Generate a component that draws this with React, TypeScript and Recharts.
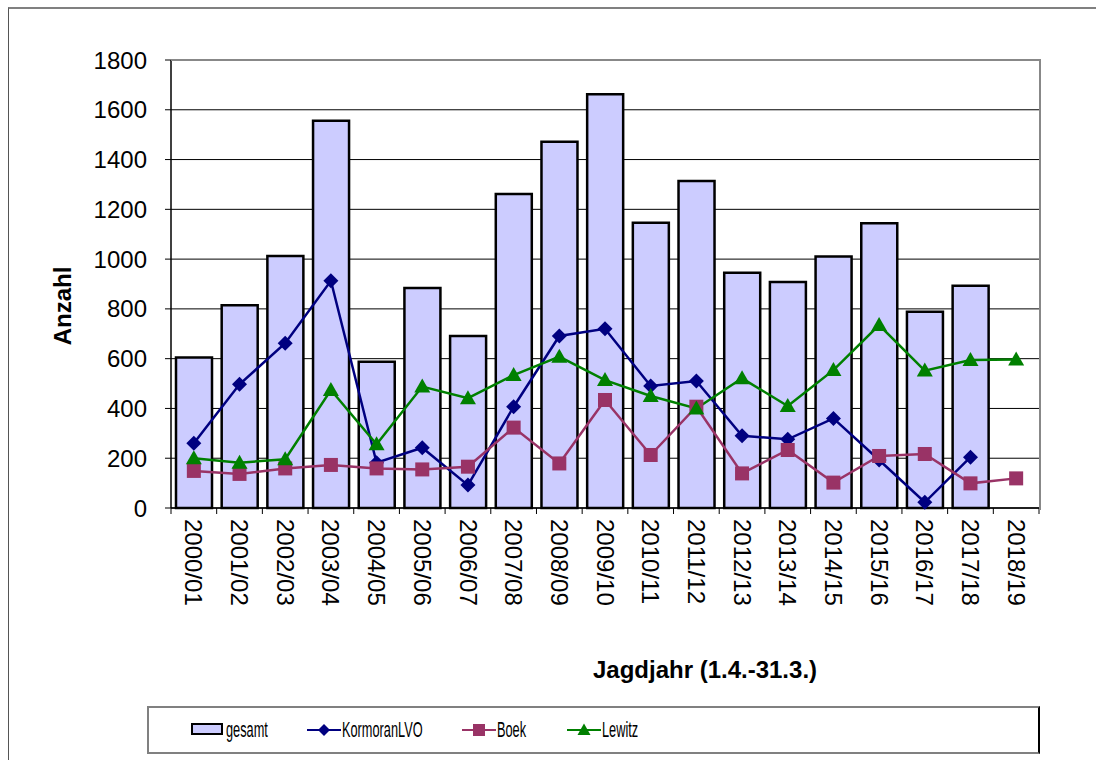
import React from 'react';
import { ComposedChart, Bar, Line, XAxis, YAxis, CartesianGrid } from 'recharts';

const years = [
  '2000/01', '2001/02', '2002/03', '2003/04', '2004/05', '2005/06', '2006/07', '2007/08', '2008/09', '2009/10',
  '2010/11', '2011/12', '2012/13', '2013/14', '2014/15', '2015/16', '2016/17', '2017/18', '2018/19',
];
const gesamt = [605, 815, 1012, 1556, 588, 884, 691, 1262, 1472, 1662, 1146, 1314, 945, 908, 1010, 1144, 789, 893, null];
const kormoranLVO = [260, 497, 662, 913, 182, 242, 92, 407, 691, 720, 490, 510, 290, 276, 360, 193, 23, 204, null];
const boek = [149, 137, 159, 173, 159, 155, 166, 323, 179, 434, 213, 407, 139, 233, 102, 209, 217, 99, 119];
const lewitz = [200, 182, 196, 474, 256, 488, 441, 534, 608, 514, 450, 400, 521, 410, 554, 735, 552, 595, 597];
const yTicks = [0, 200, 400, 600, 800, 1000, 1200, 1400, 1600, 1800];

const NAVY = '#000080';
const PLUM = '#993366';
const GREEN = '#008000';
const BAR_FILL = '#CCCCFF';
const FONT = 'Arial, "Liberation Sans", sans-serif';

const data = years.map((year, i) => ({
  year,
  gesamt: gesamt[i],
  kormoran: kormoranLVO[i],
  boek: boek[i],
  lewitz: lewitz[i],
}));

const Diamond = ({ cx, cy, size = 7.5 }: any) =>
  cx == null || cy == null ? <g /> : (
    <polygon points={`${cx},${cy - size} ${cx + size},${cy} ${cx},${cy + size} ${cx - size},${cy}`} fill={NAVY} />
  );

const Square = ({ cx, cy, size = 7 }: any) =>
  cx == null || cy == null ? <g /> : (
    <rect x={cx - size} y={cy - size} width={size * 2} height={size * 2} fill={PLUM} />
  );

const Triangle = ({ cx, cy, size = 8 }: any) =>
  cx == null || cy == null ? <g /> : (
    <polygon points={`${cx},${cy - size} ${cx + size},${cy + size * 0.75} ${cx - size},${cy + size * 0.75}`} fill={GREEN} />
  );

// x labels read top-down, tick marks sit between the categories
const YearTick = ({ x, y, payload, index, visibleTicksCount }: any) => {
  const half = payload.offset || 868 / 38;
  const axisY = y - 8;
  return (
    <g>
      <line x1={x - half} y1={axisY} x2={x - half} y2={axisY + 6} stroke="#000" />
      {index === visibleTicksCount - 1 && (
        <line x1={x + half} y1={axisY} x2={x + half} y2={axisY + 6} stroke="#000" />
      )}
      <g transform={`translate(${x},${y + 3})`}>
        <text transform="rotate(90)" textAnchor="start" dy="0.35em" fontSize={24} fill="#000" fontFamily={FONT}>
          {payload.value}
        </text>
      </g>
    </g>
  );
};

const legendText: React.CSSProperties = {
  position: 'absolute',
  top: 9,
  fontSize: 22,
  lineHeight: '26px',
  transform: 'scaleX(0.58)',
  transformOrigin: 'left center',
  whiteSpace: 'nowrap',
};

function LineIcon({ color, marker }: { color: string; marker: React.ReactNode }) {
  return (
    <svg width={34} height={16} style={{ position: 'absolute', top: 14 }}>
      <line x1={0} y1={8} x2={34} y2={8} stroke={color} strokeWidth={2} />
      {marker}
    </svg>
  );
}

export default function App() {
  return (
    <div style={{ position: 'relative', width: 1096, height: 760, overflow: 'hidden', background: '#fff', fontFamily: FONT }}>
      <style>{'body{margin:0;overflow:hidden}'}</style>
      {/* outer chart frame, runs past the right/bottom edge of the window */}
      <div
        style={{
          position: 'absolute', left: 8, top: 7, width: 1200, height: 900,
          borderLeft: '1px solid #555', borderTop: '2px solid #808080',
        }}
      />
      <div style={{ position: 'absolute', left: 8, top: 8, width: 1080, height: 752 }}>
        <ComposedChart width={1080} height={700} data={data} margin={{ top: 52, right: 49, bottom: 80, left: 83 }}>
          <CartesianGrid vertical={false} stroke="#000" strokeWidth={1} />
          <XAxis
            dataKey="year"
            interval={0}
            height={120}
            tickLine={false}
            axisLine={{ stroke: '#000', strokeWidth: 1.5 }}
            tick={<YearTick />}
          />
          <YAxis
            domain={[0, 1800]}
            ticks={yTicks}
            width={80}
            tickSize={6}
            tickMargin={18}
            axisLine={{ stroke: '#000', strokeWidth: 1.5 }}
            tickLine={{ stroke: '#000' }}
            tick={{ fontSize: 24, fill: '#000', fontFamily: FONT }}
          />
          <Bar dataKey="gesamt" fill={BAR_FILL} stroke="#000" strokeWidth={2.5} barSize={36} isAnimationActive={false} />
          <Line dataKey="kormoran" stroke={NAVY} strokeWidth={2.5} dot={(p: any) => <Diamond key={p.index} {...p} />} activeDot={false} isAnimationActive={false} />
          <Line dataKey="boek" stroke={PLUM} strokeWidth={2.5} dot={(p: any) => <Square key={p.index} {...p} />} activeDot={false} isAnimationActive={false} />
          <Line dataKey="lewitz" stroke={GREEN} strokeWidth={2.5} dot={(p: any) => <Triangle key={p.index} {...p} />} activeDot={false} isAnimationActive={false} />
        </ComposedChart>
        {/* plot area frame (top/right) */}
        <div
          style={{
            position: 'absolute', left: 163, top: 51, width: 868, height: 449,
            borderTop: '2px solid #888', borderRight: '2px solid #888', pointerEvents: 'none',
          }}
        />
        <div
          style={{
            position: 'absolute', left: 63 - 8, top: 306 - 8, transform: 'translate(-50%, -50%) rotate(-90deg)',
            fontSize: 24, fontWeight: 'bold', whiteSpace: 'nowrap',
          }}
        >
          Anzahl
        </div>
        <div
          style={{
            position: 'absolute', left: 705 - 8, top: 670 - 8, transform: 'translate(-50%, -50%)',
            fontSize: 24, fontWeight: 'bold', whiteSpace: 'nowrap',
          }}
        >
          Jagdjahr (1.4.-31.3.)
        </div>
        <div
          style={{
            position: 'absolute', left: 139, top: 698, width: 893, height: 48,
            border: '2px solid #808080', borderRightColor: '#000', boxSizing: 'border-box',
          }}
        >
          <div style={{ position: 'absolute', left: 42, top: 15, width: 28, height: 8, background: BAR_FILL, border: '2px solid #000' }} />
          <span style={{ ...legendText, left: 77 }}>gesamt</span>
          <div style={{ position: 'absolute', left: 158 }}>
            <LineIcon color={NAVY} marker={<Diamond cx={17} cy={8} size={6} />} />
          </div>
          <span style={{ ...legendText, left: 193 }}>KormoranLVO</span>
          <div style={{ position: 'absolute', left: 313 }}>
            <LineIcon color={PLUM} marker={<Square cx={17} cy={8} size={6} />} />
          </div>
          <span style={{ ...legendText, left: 348 }}>Boek</span>
          <div style={{ position: 'absolute', left: 418 }}>
            <LineIcon color={GREEN} marker={<Triangle cx={17} cy={8} size={6.5} />} />
          </div>
          <span style={{ ...legendText, left: 453 }}>Lewitz</span>
        </div>
      </div>
    </div>
  );
}
